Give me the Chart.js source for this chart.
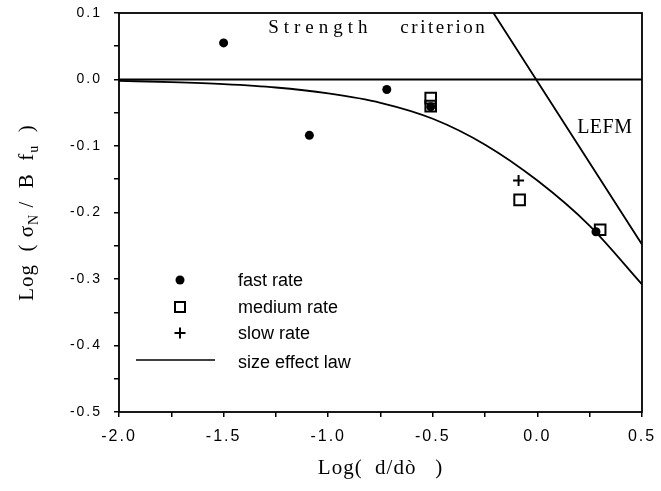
<!DOCTYPE html>
<html>
<head>
<meta charset="utf-8">
<script src="https://cdn.jsdelivr.net/npm/chart.js@4/dist/chart.umd.min.js"></script>
<style>
  html, body { margin: 0; padding: 0; background: #fff; }
  #wrap { width: 661px; height: 491px; }
</style>
</head>
<body>
<div id="wrap"><canvas id="sizeEffect" width="661" height="491"></canvas></div>
<script>
// measured strengths, log(sigmaN / B fu) against log(d / d0)
var fastX   = [-1.50, -1.09, -0.72, -0.51, 0.28]
var fastY   = [0.055, -0.084, -0.015, -0.041, -0.229]
var mediumX = [-0.51, -0.51, -0.085, 0.30]
var mediumY = [-0.028, -0.040, -0.181, -0.226]
var slowX   = [-0.09]
var slowY   = [-0.152]

// size effect law curve
var lawX = [-2.0, -1.75, -1.5, -1.25, -1.0, -0.75, -0.5, -0.25, 0.0, 0.25, 0.5]
var lawY = [-0.002, -0.004, -0.007, -0.012, -0.021, -0.035, -0.059, -0.098, -0.152, -0.220, -0.308]

// strength criterion (horizontal) and LEFM (slope -1/2) asymptotes
var strengthX = [-2.0, 0.5]
var strengthY = [0.0, 0.0]
var lefmX = [-0.21, 0.5]
var lefmY = [0.10, -0.248]

var xTicks = [-2.0, -1.5, -1.0, -0.5, 0.0, 0.5]
var yTicks = [0.1, 0.0, -0.1, -0.2, -0.3, -0.4, -0.5]

var legendItems = ['fast rate', 'medium rate', 'slow rate', 'size effect law']

const pts = (xs, ys) => xs.map((v, i) => ({x: v, y: ys[i]}))
const onMajor = (v, list) => list.some(t => Math.abs(t - v) < 1e-6)

const sansFont = 'Liberation Sans, Arial, sans-serif'
const serifFont = 'Liberation Serif, Times New Roman, serif'

function lineSet(xs, ys) {
  return {
      type: 'line'
    , data: pts(xs, ys)
    , borderColor: '#000'
    , borderWidth: 1.8
    , pointRadius: 0
    , fill: false
    , cubicInterpolationMode: 'monotone'
  }
}

// tick labels are spaced out a little
const tickSpacing = {
  id: 'tickSpacing',
  beforeDraw(chart) { chart.ctx.letterSpacing = '2px' },
  beforeDatasetsDraw(chart) { chart.ctx.letterSpacing = '0px' }
}

// text, titles, frame and in-plot legend
const overlay = {
  id: 'overlay',
  afterDraw(chart) {
    const ctx = chart.ctx
    const a = chart.chartArea
    const x = chart.scales.x
    const y = chart.scales.y
    ctx.save()
    ctx.strokeStyle = '#000'
    ctx.lineWidth = 1.8
    ctx.strokeRect(a.left, a.top, a.right - a.left, a.bottom - a.top)

    ctx.fillStyle = '#000'
    ctx.textBaseline = 'middle'
    ctx.textAlign = 'left'
    ctx.font = '19px ' + serifFont
    ctx.letterSpacing = '5px'
    ctx.fillText('Strength', x.getPixelForValue(-1.287), y.getPixelForValue(0.078))
    ctx.letterSpacing = '2.5px'
    ctx.fillText('criterion', x.getPixelForValue(-0.655), y.getPixelForValue(0.078))
    ctx.letterSpacing = '0.5px'
    ctx.font = '20px ' + serifFont
    ctx.fillText('LEFM', x.getPixelForValue(0.19), y.getPixelForValue(-0.072))

    // x title
    ctx.font = '21px ' + serifFont
    ctx.letterSpacing = '1px'
    ctx.textAlign = 'center'
    ctx.textBaseline = 'alphabetic'
    ctx.fillText('Log(  d/dò   )', (a.left + a.right) / 2, 474)

    // y title with subscripts, rotated
    ctx.letterSpacing = '1px'
    ctx.translate(33, (a.top + a.bottom) / 2)
    ctx.rotate(-Math.PI / 2)
    const parts = [['Log  ( σ', 0], ['N', 1], [' /  B  f', 0], ['u', 1], ['  )', 0]]
    const fontFor = p => (p[1] ? '14px ' : '21px ') + serifFont
    let total = 0
    parts.forEach(p => {
      ctx.font = fontFor(p)
      total += ctx.measureText(p[0]).width
    })
    let cx = -total / 2
    ctx.textAlign = 'left'
    parts.forEach(p => {
      ctx.font = fontFor(p)
      ctx.fillText(p[0], cx, p[1] ? 5 : 0)
      cx += ctx.measureText(p[0]).width
    })
    ctx.restore()

    // legend
    ctx.save()
    ctx.letterSpacing = '0px'
    const mx = a.left + 61
    const tx = a.left + 119
    const rows = [a.top + 267, a.top + 294, a.top + 320, a.top + 349]
    ctx.fillStyle = '#000'
    ctx.strokeStyle = '#000'
    ctx.lineWidth = 2
    ctx.beginPath(); ctx.arc(mx, rows[0], 4.5, 0, Math.PI * 2); ctx.fill()
    ctx.strokeRect(mx - 5, rows[1] - 5, 10, 10)
    ctx.beginPath()
    ctx.moveTo(mx - 5.5, rows[2]); ctx.lineTo(mx + 5.5, rows[2])
    ctx.moveTo(mx, rows[2] - 5.5); ctx.lineTo(mx, rows[2] + 5.5)
    ctx.stroke()
    ctx.lineWidth = 1.5
    ctx.beginPath(); ctx.moveTo(a.left + 17, rows[3] - 2); ctx.lineTo(a.left + 96, rows[3] - 2); ctx.stroke()
    ctx.font = '18px ' + sansFont
    ctx.textBaseline = 'middle'
    ctx.textAlign = 'left'
    legendItems.forEach((t, i) => ctx.fillText(t, tx, rows[i] + 1))
    ctx.restore()
  }
}

const ctx = document.getElementById('sizeEffect').getContext('2d')

new Chart(ctx, {
  type: 'scatter'
, data: {
    datasets: [
      lineSet(strengthX, strengthY)
    , lineSet(lefmX, lefmY)
    , lineSet(lawX, lawY)
    , { label: 'fast rate', data: pts(fastX, fastY), pointStyle: 'circle', pointRadius: 4.5
      , backgroundColor: '#000', borderColor: '#000', borderWidth: 0 }
    , { label: 'medium rate', data: pts(mediumX, mediumY), pointStyle: 'rect', pointRadius: 7.5
      , backgroundColor: 'rgba(255,255,255,0)', borderColor: '#000', borderWidth: 2 }
    , { label: 'slow rate', data: pts(slowX, slowY), pointStyle: 'cross', pointRadius: 5.5
      , borderColor: '#000', borderWidth: 2 }
    ]
  }
, options: {
    responsive: false
  , animation: false
  , layout: {padding: {top: 13, right: 19, left: 0, bottom: 0}}
  , plugins: {legend: {display: false}, tooltip: {enabled: false}}
  , scales: {
      x: {
        type: 'linear', min: -2.0, max: 0.5
      , afterFit: s => { s.height = 79; s.paddingLeft = 0; s.paddingRight = 0 }
      , afterBuildTicks: s => { s.ticks = [-2, -1.75, -1.5, -1.25, -1, -0.75, -0.5, -0.25, 0, 0.25, 0.5].map(v => ({value: v})) }
      , border: {display: false}
      , grid: {drawOnChartArea: false, drawTicks: true, tickLength: 5, color: '#000', lineWidth: 1.5}
      , ticks: {
          autoSkip: false, maxRotation: 0, padding: 10, color: '#000'
        , font: {family: sansFont, size: 16}
        , callback: v => onMajor(v, xTicks) ? v.toFixed(1) : ''
        }
      }
    , y: {
        type: 'linear', min: -0.5, max: 0.1
      , afterFit: s => { s.width = 119; s.paddingTop = 0; s.paddingBottom = 0 }
      , afterBuildTicks: s => { s.ticks = [-0.5, -0.45, -0.4, -0.35, -0.3, -0.25, -0.2, -0.15, -0.1, -0.05, 0, 0.05, 0.1].map(v => ({value: v})) }
      , border: {display: false}
      , grid: {drawOnChartArea: false, drawTicks: true, tickLength: 5, color: '#000', lineWidth: 1.5}
      , ticks: {
          autoSkip: false, padding: 12, color: '#000'
        , font: {family: sansFont, size: 14}
        , callback: v => onMajor(v, yTicks) ? v.toFixed(1) : ''
        }
      }
    }
  }
, plugins: [tickSpacing, overlay]
})
</script>
</body>
</html>
